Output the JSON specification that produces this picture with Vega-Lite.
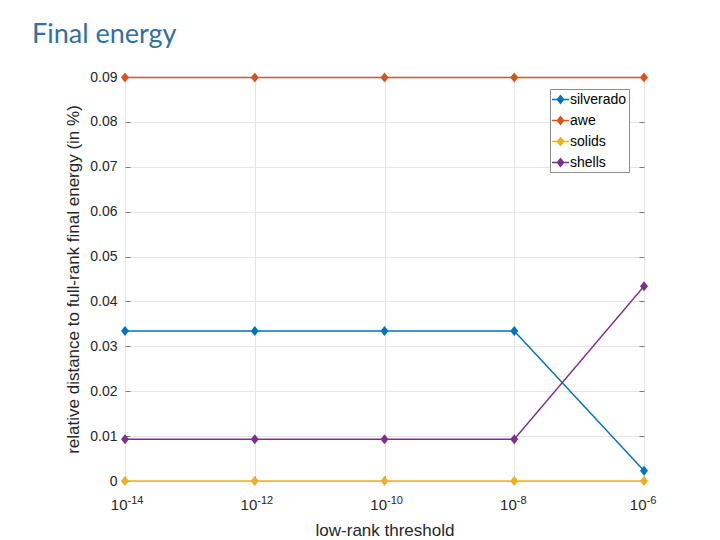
{
  "$schema": "https://vega.github.io/schema/vega-lite/v6.json",
  "width": 519,
  "height": 404,
  "autosize": {"type": "none"},
  "padding": {"left": 125, "top": 77, "right": 76, "bottom": 59},
  "background": "white",
  "title": {"text": "Final energy", "anchor": "start", "frame": "group", "dx": -93, "dy": 35, "offset": 35, "baseline": "alphabetic", "font": "Lato", "fontSize": 27, "fontWeight": "normal", "color": "#31709f"},
  "data": {"values": [
    {"series": "silverado", "threshold": 1e-14, "value": 0.0334},
    {"series": "silverado", "threshold": 1e-12, "value": 0.0334},
    {"series": "silverado", "threshold": 1e-10, "value": 0.0334},
    {"series": "silverado", "threshold": 1e-8, "value": 0.0334},
    {"series": "silverado", "threshold": 1e-6, "value": 0.0023},
    {"series": "awe", "threshold": 1e-14, "value": 0.0899},
    {"series": "awe", "threshold": 1e-12, "value": 0.0899},
    {"series": "awe", "threshold": 1e-10, "value": 0.0899},
    {"series": "awe", "threshold": 1e-8, "value": 0.0899},
    {"series": "awe", "threshold": 1e-6, "value": 0.0899},
    {"series": "solids", "threshold": 1e-14, "value": 0},
    {"series": "solids", "threshold": 1e-12, "value": 0},
    {"series": "solids", "threshold": 1e-10, "value": 0},
    {"series": "solids", "threshold": 1e-8, "value": 0},
    {"series": "solids", "threshold": 1e-6, "value": 0},
    {"series": "shells", "threshold": 1e-14, "value": 0.0093},
    {"series": "shells", "threshold": 1e-12, "value": 0.0093},
    {"series": "shells", "threshold": 1e-10, "value": 0.0093},
    {"series": "shells", "threshold": 1e-8, "value": 0.0093},
    {"series": "shells", "threshold": 1e-6, "value": 0.0434}
  ]},
  "config": {
    "view": {"stroke": "#8a8a8a", "strokeWidth": 1},
    "font": "Liberation Sans",
    "axis": {"domain": false, "tickColor": "#7a7a7a", "gridColor": "#e6e6e6", "labelColor": "#262626", "titleColor": "#262626", "labelFont": "Liberation Sans", "titleFont": "Liberation Sans", "titleFontWeight": "normal"}
  },
  "resolve": {"axis": {"x": "independent", "y": "independent"}},
  "layer": [
    {
      "mark": {"type": "point", "filled": true, "opacity": 1, "shape": "M-0.8,0L0,-1L0.8,0L0,1Z", "size": 100},
      "encoding": {
        "x": {"field": "threshold", "type": "quantitative",
          "scale": {"type": "log", "domain": [1e-14, 1e-6], "nice": false},
          "axis": {"values": [1e-14, 1e-12, 1e-10, 1e-8, 1e-6], "labelExpr": "'10'", "labelFontSize": 15, "labelAlign": "right", "labelOffset": 2, "tickSize": -5, "labelPadding": 21, "title": "low-rank threshold", "titleFontSize": 17, "titlePadding": 10, "grid": true, "labelFlush": false}},
        "y": {"field": "value", "type": "quantitative",
          "scale": {"domain": [0, 0.09], "nice": false},
          "axis": {"values": [0, 0.01, 0.02, 0.03, 0.04, 0.05, 0.06, 0.07, 0.08, 0.09], "format": ".2~f", "labelFontSize": 14, "tickSize": -5, "labelPadding": 13, "title": "relative distance to full-rank final energy (in %)", "titleFontSize": 17, "titlePadding": 7, "grid": true, "labelFlush": false}},
        "color": {"field": "series", "type": "nominal",
          "scale": {"domain": ["silverado", "awe", "solids", "shells"], "range": ["#0072BD", "#D95319", "#EDB120", "#7E2F8E"]},
          "legend": {"title": null, "orient": "none", "legendX": 425, "legendY": 12, "fillColor": "white", "strokeColor": "#8c8c8c", "padding": 2, "labelFontSize": 14, "labelColor": "#000000", "labelOffset": 1, "rowPadding": 5, "symbolType": "M-1,-0.09L1,-0.09L1,0.09L-1,0.09Z M-0.47,0L0,-0.59L0.47,0L0,0.59Z", "symbolSize": 289, "symbolStrokeWidth": 0, "symbolOpacity": 1}}
      }
    },
    {
      "mark": {"type": "line", "strokeWidth": 1.4},
      "encoding": {
        "x": {"field": "threshold", "type": "quantitative",
          "scale": {"type": "log", "domain": [1e-14, 1e-6], "nice": false},
          "axis": {"orient": "bottom", "values": [1e-14, 1e-12, 1e-10, 1e-8, 1e-6], "labelExpr": "datum.value < 1e-13 ? '-14' : datum.value < 1e-11 ? '-12' : datum.value < 1e-9 ? '-10' : datum.value < 1e-7 ? '-8' : '-6'", "labelFontSize": 11, "labelAlign": "left", "labelOffset": 2, "labelPadding": 13, "ticks": false, "grid": false, "title": null, "labelFlush": false}},
        "y": {"field": "value", "type": "quantitative",
          "scale": {"domain": [0, 0.09], "nice": false},
          "axis": {"orient": "right", "values": [0, 0.01, 0.02, 0.03, 0.04, 0.05, 0.06, 0.07, 0.08, 0.09], "labels": false, "tickSize": -5, "grid": false, "title": null}},
        "color": {"field": "series", "type": "nominal", "scale": {"domain": ["silverado", "awe", "solids", "shells"], "range": ["#0072BD", "#D95319", "#EDB120", "#7E2F8E"]}},
        "detail": {"field": "series"}
      }
    }
  ]
}
